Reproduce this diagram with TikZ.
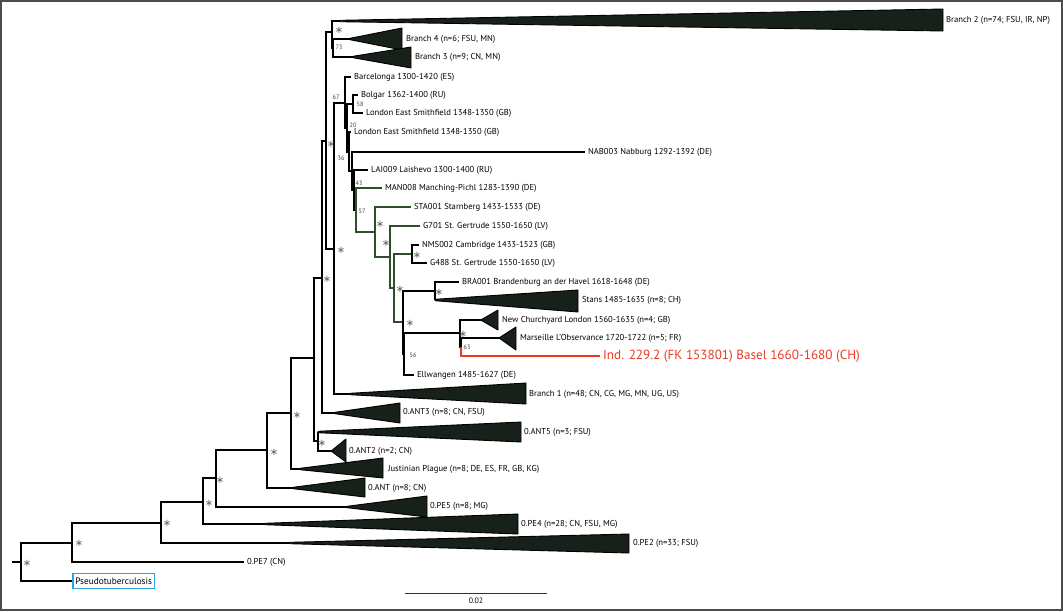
\documentclass[tikz,border=0pt]{standalone}
\usepackage{fontspec}
\setmainfont{PT Sans}
\newfontfamily\symfont{DejaVu Sans}
\definecolor{cladefill}{HTML}{18201A}
\definecolor{spgreen}{HTML}{2F4F2C}
\definecolor{indred}{HTML}{EA3A24}
\definecolor{pseudoblue}{HTML}{2CA5DE}

\begin{document}
\begin{tikzpicture}[x=1pt,y=-1pt,line width=1.2pt,
    lab/.style={anchor=west,inner sep=2.5pt,font=\fontsize{8.6}{9}\selectfont},
    star/.style={inner sep=0pt,font=\symfont\fontsize{10}{10}\selectfont,black!60},
    bsv/.style={inner sep=0pt,font=\fontsize{6.3}{7}\selectfont,black!75},
    clade/.style={fill=cladefill,draw=black,line width=0.9pt,line join=round}]

    \useasboundingbox (0,0) rectangle (1063,611);
    \draw[black!70,line width=1.8pt] (1,1) rectangle (1062,610);

    \coordinate (stem) at (12,562);
    \coordinate (n0) at (21,562);
    \coordinate (n1) at (72,543);
    \coordinate (n2) at (161,523);
    \coordinate (n3) at (203,502);
    \coordinate (n4) at (216,478);
    \coordinate (n5) at (267,450);
    \coordinate (n6) at (291,413);
    \coordinate (n7) at (314,358);
    \coordinate (n8) at (322,278);
    \coordinate (n9) at (318,441);
    \coordinate (n10) at (326,141);
    \coordinate (n11) at (332,32);
    \coordinate (n12) at (333,48);
    \coordinate (n13) at (334,249);
    \coordinate (n14) at (345,103);
    \coordinate (n15) at (347,128);
    \coordinate (n16) at (353,104);
    \coordinate (n17) at (349,152);
    \coordinate (n18) at (352,171);
    \coordinate (n19) at (354,190);
    \coordinate (n20) at (356,210);
    \coordinate (n21) at (375,232);
    \coordinate (n22) at (390,257);
    \coordinate (n23) at (394,288);
    \coordinate (n24) at (412,254);
    \coordinate (n25) at (403,322);
    \coordinate (n26) at (435,291);
    \coordinate (n27) at (404,354);
    \coordinate (n28) at (460,333);
    \coordinate (n29) at (461,347);

    % collapsed clades
    \coordinate (br2) at (340,21);
    \coordinate (br4) at (350,39);
    \coordinate (br3) at (353,57);
    \coordinate (br1) at (350,394);
    \coordinate (ant3) at (335,413);
    \coordinate (ant5) at (318,432);
    \coordinate (ant2) at (332,451);
    \coordinate (just) at (300,469);
    \coordinate (ant) at (293,488);
    \coordinate (pe5) at (347,507);
    \coordinate (pe4) at (265,524);
    \coordinate (pe2) at (290,543);
    \coordinate (stans) at (435,300);
    \coordinate (ncl) at (482,320);
    \coordinate (mars) at (500,338);

    \filldraw[clade] ([yshift=0.7pt]br2) -- (943,9) -- (943,31) -- ([yshift=-0.7pt]br2) -- cycle;
    \filldraw[clade] ([yshift=0.7pt]br4) -- (402,28) -- (402,50) -- ([yshift=-0.7pt]br4) -- cycle;
    \filldraw[clade] ([yshift=0.7pt]br3) -- (411,47) -- (411,68) -- ([yshift=-0.7pt]br3) -- cycle;
    \filldraw[clade] ([yshift=0.7pt]br1) -- (526,383) -- (526,404) -- ([yshift=-0.7pt]br1) -- cycle;
    \filldraw[clade] ([yshift=0.7pt]ant3) -- (400,403) -- (400,423) -- ([yshift=-0.7pt]ant3) -- cycle;
    \filldraw[clade] ([yshift=0.7pt]ant5) -- (521,422) -- (521,442) -- ([yshift=-0.7pt]ant5) -- cycle;
    \filldraw[clade] ([yshift=0.7pt]ant2) -- (346,439) -- (346,462) -- ([yshift=-0.7pt]ant2) -- cycle;
    \filldraw[clade] ([yshift=0.7pt]just) -- (383,458) -- (383,478) -- ([yshift=-0.7pt]just) -- cycle;
    \filldraw[clade] ([yshift=0.7pt]ant) -- (365,478) -- (365,497) -- ([yshift=-0.7pt]ant) -- cycle;
    \filldraw[clade] ([yshift=0.7pt]pe5) -- (427,496) -- (427,517) -- ([yshift=-0.7pt]pe5) -- cycle;
    \filldraw[clade] ([yshift=0.7pt]pe4) -- (518,514) -- (518,534) -- ([yshift=-0.7pt]pe4) -- cycle;
    \filldraw[clade] ([yshift=0.7pt]pe2) -- (629,534) -- (629,553) -- ([yshift=-0.7pt]pe2) -- cycle;
    \filldraw[clade] ([yshift=0.7pt]stans) -- (578,290) -- (578,312) -- ([yshift=-0.7pt]stans) -- cycle;
    \filldraw[clade] ([yshift=0.7pt]ncl) -- (498,310) -- (498,330) -- ([yshift=-0.7pt]ncl) -- cycle;
    \filldraw[clade] ([yshift=0.7pt]mars) -- (516,327) -- (516,350) -- ([yshift=-0.7pt]mars) -- cycle;

    \node[lab] (br2l) at (943,20) {Branch 2 (n=74; FSU, IR, NP)};
    \node[lab] (br4l) at (403,39) {Branch 4 (n=6; FSU, MN)};
    \node[lab] (br3l) at (412,57) {Branch 3 (n=9; CN, MN)};
    \node[lab] (br1l) at (526,394) {Branch 1 (n=48; CN, CG, MG, MN, UG, US)};
    \node[lab] (ant3l) at (400,412) {0.ANT3 (n=8; CN, FSU)};
    \node[lab] (ant5l) at (521,432) {0.ANT5 (n=3; FSU)};
    \node[lab] (ant2l) at (346,451) {0.ANT2 (n=2; CN)};
    \node[lab] (justl) at (385,469) {Justinian Plague (n=8; DE, ES, FR, GB, KG)};
    \node[lab] (antl) at (365,488) {0.ANT (n=8; CN)};
    \node[lab] (pe5l) at (427,506) {0.PE5 (n=8; MG)};
    \node[lab] (pe4l) at (518,524) {0.PE4 (n=28; CN, FSU, MG)};
    \node[lab] (pe2l) at (630,543) {0.PE2 (n=33; FSU)};
    \node[lab] (stansl) at (579,300) {Stans 1485-1635 (n=8; CH)};
    \node[lab] (ncll) at (499,320) {New Churchyard London 1560-1635 (n=4; GB)};
    \node[lab] (marsl) at (517,338) {Marseille L'Observance 1720-1722 (n=5; FR)};

    % leaves
    \node[lab,draw=pseudoblue,line width=1.5pt,inner sep=2.5pt,minimum height=15pt,font=\fontsize{9.3}{10}\selectfont] (pse) at (72,581) {Pseudotuberculosis};
    \node[lab] (pe7) at (244,562) {0.PE7 (CN)};
    \node[lab] (barc) at (351,77) {Barcelonga 1300-1420 (ES)};
    \node[lab] (bolg) at (358,95) {Bolgar 1362-1400 (RU)};
    \node[lab] (lon1) at (363,113) {London East Smithfield 1348-1350 (GB)};
    \node[lab] (lon2) at (351,132) {London East Smithfield 1348-1350 (GB)};
    \node[lab] (nab) at (585,152) {NAB003 Nabburg 1292-1392 (DE)};
    \node[lab] (lai) at (368,170) {LAI009 Laishevo 1300-1400 (RU)};
    \node[lab] (man) at (382,188) {MAN008 Manching-Pichl 1283-1390 (DE)};
    \node[lab] (sta) at (411,207) {STA001 Starnberg 1433-1533 (DE)};
    \node[lab] (g701) at (420,226) {G701 St. Gertrude 1550-1650 (LV)};
    \node[lab] (nms) at (419,245) {NMS002 Cambridge 1433-1523 (GB)};
    \node[lab] (g488) at (427,263) {G488 St. Gertrude 1550-1650 (LV)};
    \node[lab] (bra) at (459,282) {BRA001 Brandenburg an der Havel 1618-1648 (DE)};
    \node[lab] (ell) at (414,375) {Ellwangen 1485-1627 (DE)};
    \node[lab,indred,font=\fontsize{13.2}{14}\selectfont] (ind) at (600,356) {Ind. 229.2 (FK 153801) Basel 1660-1680 (CH)};

    % branches
    \draw (stem) -- (n0);
    \draw (n0) |- (n1);
    \draw (n0) |- (pse.west);
    \draw (n1) |- (n2);
    \draw (n1) |- (pe7.west);
    \draw (n2) |- (n3);
    \draw (n2) |- (pe2);
    \draw (n3) |- (n4);
    \draw (n3) |- (pe4);
    \draw (n4) |- (n5);
    \draw (n4) |- (pe5);
    \draw (n5) |- (n6);
    \draw (n5) |- (ant);
    \draw (n6) |- (n7);
    \draw (n6) |- (just);
    \draw (n7) |- (n8);
    \draw (n7) |- (n9);
    \draw (n9) |- (ant5);
    \draw (n9) |- (ant2);
    \draw (n8) |- (n10);
    \draw (n8) |- (ant3);
    \draw (n10) |- (n11);
    \draw (n10) |- (n13);
    \draw (n11) |- (br2);
    \draw (n11) |- (n12);
    \draw (n12) |- (br4);
    \draw (n12) |- (br3);
    \draw (n13) |- (n14);
    \draw (n13) |- (br1);
    \draw (n14) |- (barc.west);
    \draw (n14) |- (n15);
    \draw (n15) |- (n16);
    \draw (n15) |- (n17);
    \draw (n16) |- (bolg.west);
    \draw (n16) |- (lon1.west);
    \draw (n17) |- (lon2.west);
    \draw (n17) |- (n18);
    \draw (n18) |- (nab.west);
    \draw (n18) |- (n19);
    \draw (n19) |- (lai.west);
    \draw (n19) |- (n20);
    \draw[spgreen] (n20) |- (man.west);
    \draw[spgreen] (n20) |- (n21);
    \draw[spgreen] (n21) |- (sta.west);
    \draw[spgreen] (n21) |- (n22);
    \draw[spgreen] (n22) |- (g701.west);
    \draw[spgreen] (n22) |- (n23);
    \draw[spgreen] (n23) |- (n24);
    \draw[spgreen] (n23) |- (n25);
    \draw (n24) |- (nms.west);
    \draw (n24) |- (g488.west);
    \draw (n25) |- (n26);
    \draw (n25) |- (n27);
    \draw (n26) |- (bra.west);
    \draw (n26) |- (stans);
    \draw (n27) |- (n28);
    \draw (n27) |- (ell.west);
    \draw (n28) |- (ncl);
    \draw (n28) |- (n29);
    \draw (n29) |- (mars);
    \draw[indred] (n29) |- (ind.west);

    % support values
    \node[star] (sn0) at (27,563) {∗};
    \node[star] (sn1) at (79,543) {∗};
    \node[star] (sn2) at (167,523) {∗};
    \node[star] (sn3) at (209,503) {∗};
    \node[star] (sn4) at (220,480) {∗};
    \node[star] (sn5) at (274,452) {∗};
    \node[star] (sn6) at (297,415) {∗};
    \node[star] (sn9) at (322,443) {∗};
    \node[star] (sn8) at (327,279) {∗};
    \node[star] (sn10) at (331,144) {∗};
    \node[star] (sn11) at (339,30) {∗};
    \node[star] (sn13) at (341,250) {∗};
    \node[star] (sn21) at (380,224) {∗};
    \node[star] (sn22) at (386,243) {∗};
    \node[star] (sn24) at (417,255) {∗};
    \node[star] (sn23) at (400,289) {∗};
    \node[star] (sn26) at (439,292) {∗};
    \node[star] (sn25) at (410,323) {∗};
    \node[star] (sn28) at (463,334) {∗};
    \node[bsv] (bn12) at (339,47) {73};
    \node[bsv] (bn14) at (336,97) {67};
    \node[bsv] (bn16) at (360,104) {58};
    \node[bsv] (bn15) at (353,125) {20};
    \node[bsv] (bn17) at (341,158) {36};
    \node[bsv] (bn19) at (359,183) {43};
    \node[bsv] (bn20) at (362,211) {57};
    \node[bsv] (bn29) at (467,347) {63};
    \node[bsv] (bn27) at (413,355) {56};

    % scale bar
    \coordinate (sb1) at (405,593);
    \coordinate (sb2) at (547,593);
    \draw[line width=0.6pt,black!80] (sb1) -- node[below=1pt,black,font=\fontsize{7.8}{8}\selectfont] (sbl) {0.02} (sb2);
\end{tikzpicture}
\end{document}
